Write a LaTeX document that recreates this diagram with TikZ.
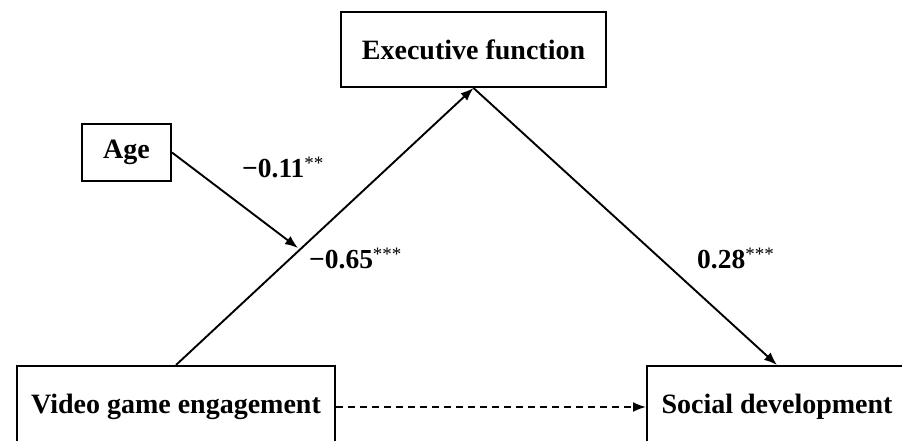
\documentclass[tikz,border=0pt]{standalone}
\usepackage{fontspec}
\setmainfont{Liberation Serif}
\usetikzlibrary{arrows.meta}
\newcommand{\stars}[1]{\raisebox{8pt}{\fontsize{19}{19}\selectfont\mdseries #1}}
\begin{document}
\begin{tikzpicture}[x=1pt,y=-1pt,
  box/.style={draw=black,line width=2pt,inner sep=0pt,align=center,
    font=\fontsize{28}{30}\selectfont\bfseries},
  lab/.style={inner sep=0pt,anchor=base west,font=\fontsize{27.5}{30}\selectfont\bfseries},
  conn/.style={line width=1.9pt,-{Latex[length=13pt,width=10pt]}}]
\useasboundingbox (0,0) rectangle (902,441);
\clip (0,0) rectangle (902,441);
\node[box,minimum width=265pt,minimum height=75pt] (ef) at (473.5,49.5) {Executive function};
\node[box,minimum width=89pt,minimum height=57pt] (age) at (126.5,152.5) {Age};
\node[box,minimum width=318pt,minimum height=82pt] (vg) at (176,407) {Video game engagement};
\node[box,minimum width=260pt,minimum height=82pt] (sd) at (777,407) {Social development};
\coordinate (mod) at (298,248);
\draw[conn] (vg.north) -- (ef.south);
\draw[conn] (ef.south) -- (sd.north);
\draw[conn] (age.east) -- (mod);
\draw[conn,dashed,dash pattern=on 7pt off 5pt] (vg.east) -- (sd.west);
\node[lab] (l1) at (242,177) {−0.11\stars{**}};
\node[lab] (l2) at (309,268) {−0.65\stars{***}};
\node[lab] (l3) at (697,268) {0.28\stars{***}};
\end{tikzpicture}
\end{document}
